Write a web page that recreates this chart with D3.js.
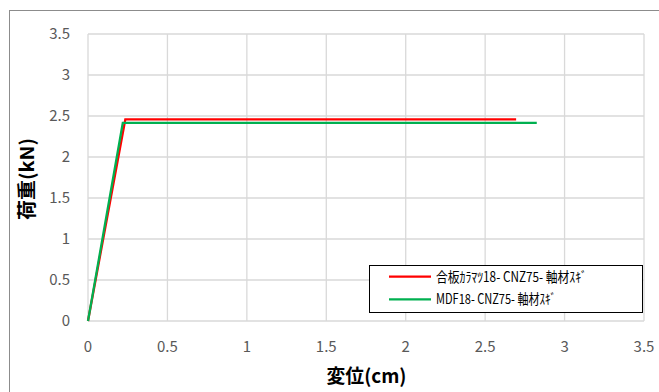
<!DOCTYPE html>
<html><head><meta charset="utf-8">
<script src="https://cdn.jsdelivr.net/npm/d3@7"></script>
<style>body{margin:0;background:#fff}svg{display:block}</style>
</head><body><svg id="c" width="659" height="392"></svg>
<script>
const seriesNames = ["合板ｶﾗﾏﾂ18- CNZ75- 軸材ｽｷﾞ", "MDF18- CNZ75- 軸材ｽｷﾞ"];
const seriesColors = ["#ff0000", "#00b050"];
const redX = [0, 0.235, 2.695];
const redY = [0, 2.46, 2.46];
const greenX = [0, 0.219, 2.825];
const greenY = [0, 2.415, 2.415];
const xTicks = [0, 0.5, 1, 1.5, 2, 2.5, 3, 3.5];
const yTicks = [0, 0.5, 1, 1.5, 2, 2.5, 3, 3.5];
const xTitle = "変位(cm)";
const yTitle = "荷重(kN)";

const FONT = "'Noto Sans CJK JP','Noto Sans',sans-serif";
const svg = d3.select("#c");
svg.append("rect").attr("x",9.5).attr("y",10.5).attr("width",700).attr("height",400)
  .attr("fill","#fff").attr("stroke","#8c8c8c").attr("stroke-width",1);

const x = d3.scaleLinear().domain([0,3.5]).range([88,644]);
const y = d3.scaleLinear().domain([0,3.5]).range([321,34]);

const g = svg.append("g");
g.selectAll(".vg").data(xTicks).join("line")
  .attr("x1",d=>x(d)).attr("x2",d=>x(d)).attr("y1",y(0)).attr("y2",y(3.5))
  .attr("stroke","#d9d9d9").attr("stroke-width",1.3);
g.selectAll(".hg").data(yTicks).join("line")
  .attr("y1",d=>y(d)).attr("y2",d=>y(d)).attr("x1",x(0)).attr("x2",x(3.5))
  .attr("stroke","#d9d9d9").attr("stroke-width",1.3);

g.selectAll(".xt").data(xTicks).join("text")
  .attr("x",d=>x(d)).attr("y",352).attr("text-anchor","middle")
  .attr("font-family",FONT).attr("font-size",15).attr("fill","#595959").text(d=>d);
g.selectAll(".yt").data(yTicks).join("text")
  .attr("x",70).attr("y",d=>y(d)+5).attr("text-anchor","end")
  .attr("font-family",FONT).attr("font-size",15).attr("fill","#595959").text(d=>d);

const line = d3.line().x(d=>x(d[0])).y(d=>y(d[1]));
const data = [d3.zip(redX, redY), d3.zip(greenX, greenY)];
svg.selectAll(".ser").data(data).join("path")
  .attr("d",line).attr("fill","none").attr("stroke",(d,i)=>seriesColors[i])
  .attr("stroke-width",2.3).attr("stroke-linejoin","miter");

svg.append("text").attr("x",326.5).attr("y",383)
  .attr("textLength",80).attr("lengthAdjust","spacingAndGlyphs")
  .attr("font-family",FONT).attr("font-weight","bold").attr("font-size",19).attr("fill","#000").text(xTitle);
svg.append("text").attr("transform","translate(34,220) rotate(-90)")
  .attr("textLength",82).attr("lengthAdjust","spacingAndGlyphs")
  .attr("font-family",FONT).attr("font-weight","bold").attr("font-size",19).attr("fill","#000").text(yTitle);

const lg = svg.append("g");
lg.append("rect").attr("x",369.5).attr("y",265.5).attr("width",273).attr("height",47)
  .attr("fill","#fff").attr("stroke","#000").attr("stroke-width",1);
const ly = [276.7, 299.3];
const lw = [151, 120];
lg.selectAll(".ll").data(seriesNames).join("line")
  .attr("x1",389).attr("x2",431).attr("y1",(d,i)=>ly[i]).attr("y2",(d,i)=>ly[i])
  .attr("stroke",(d,i)=>seriesColors[i]).attr("stroke-width",2.3);
lg.selectAll(".lt").data(seriesNames).join("text")
  .attr("x",436).attr("y",(d,i)=>ly[i]+5)
  .attr("textLength",(d,i)=>lw[i]).attr("lengthAdjust","spacingAndGlyphs")
  .attr("font-family",FONT).attr("font-size",14).attr("fill","#000").text(d=>d);
</script></body></html>
